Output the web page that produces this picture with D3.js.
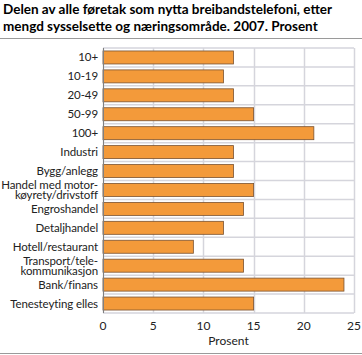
<!DOCTYPE html>
<html><head><meta charset="utf-8">
<script src="https://cdn.jsdelivr.net/npm/d3@7"></script>
<style>body{margin:0;background:#fff;} text{font-family:Lato,"Liberation Sans",sans-serif;}</style>
</head><body>
<svg id="c" width="362" height="355"></svg>
<script>
const categories = ["10+","10-19","20-49","50-99","100+","Industri","Bygg/anlegg","Handel med motor-|køyrety/drivstoff","Engroshandel","Detaljhandel","Hotell/restaurant","Transport/tele-|kommunikasjon","Bank/finans","Tenesteyting elles"];
const values = [13,12,13,15,21,13,13,15,14,12,9,14,24,15];
const xTicks = [0,5,10,15,20,25];
const titleLines = ["Delen av alle føretak som nytta breibandstelefoni, etter","mengd sysselsette og næringsområde. 2007. Prosent"];
const xLabel = "Prosent";

const svg = d3.select("#c");
const m = {left:103, right:8, top:48, bottom:42};
const W = 362, H = 355;
const x = d3.scaleLinear().domain([0,25]).range([m.left, W-m.right]);

const title = svg.selectAll("text.title").data(titleLines).enter().append("text")
  .attr("x",3).attr("y",(d,i)=>14+i*17).attr("font-size",13.5).attr("font-weight","bold").attr("fill","#000").text(d=>d);
title.each(function(d,i){ if(i===0){ const l=this.getComputedTextLength(); if(l>350) d3.select(this).attr("textLength",350).attr("lengthAdjust","spacingAndGlyphs"); }});
svg.append("line").attr("x1",0).attr("x2",W).attr("y1",38.5).attr("y2",38.5).attr("stroke","#9a9a9a").attr("stroke-width",1);
svg.append("line").attr("x1",0).attr("x2",W).attr("y1",353.5).attr("y2",353.5).attr("stroke","#9a9a9a").attr("stroke-width",1);

const grid = "#d5d5dc";
svg.selectAll("line.vg").data(xTicks).enter().append("line")
  .attr("x1",d=>Math.round(x(d))+0.5).attr("x2",d=>Math.round(x(d))+0.5)
  .attr("y1",m.top).attr("y2",H-m.bottom).attr("stroke",grid).attr("stroke-width",1.5);
const band = (H-m.bottom-m.top)/categories.length;
svg.selectAll("line.hg").data(d3.range(categories.length+1)).enter().append("line")
  .attr("x1",m.left).attr("x2",W-m.right)
  .attr("y1",d=>m.top + band*d).attr("y2",d=>m.top + band*d)
  .attr("stroke",grid).attr("stroke-width",1.5);

svg.selectAll("rect.bar").data(values).enter().append("rect")
  .attr("x",x(0)).attr("y",(d,i)=>m.top + band*i + (band-13)/2)
  .attr("width",d=>x(d)-x(0)).attr("height",13)
  .attr("fill","#f39a3a").attr("stroke","#7a5230").attr("stroke-width",0.8);

svg.append("line").attr("x1",x(0)+0.5).attr("x2",x(0)+0.5).attr("y1",m.top).attr("y2",H-m.bottom).attr("stroke","#808080").attr("stroke-width",1);

categories.forEach((c,i)=>{
  const lines = c.split("|");
  const cy = m.top + band*i + band/2;
  const t = svg.append("text").attr("text-anchor","end").attr("font-size",11.5).attr("letter-spacing",-0.1).attr("fill","#222");
  lines.forEach((l,j)=>{
    t.append("tspan").attr("x",m.left-5).attr("y", cy + 4 + (j-(lines.length-1)/2)*10).text(l);
  });
});

svg.selectAll("text.xt").data(xTicks).enter().append("text")
  .attr("x",d=>x(d)).attr("y",H-m.bottom+17).attr("text-anchor","middle").attr("font-size",12).attr("fill","#222").text(d=>d);
svg.append("text").attr("x",x(12.5)).attr("y",H-m.bottom+32).attr("text-anchor","middle").attr("font-size",12).attr("fill","#222").text(xLabel);
</script>
</body></html>
